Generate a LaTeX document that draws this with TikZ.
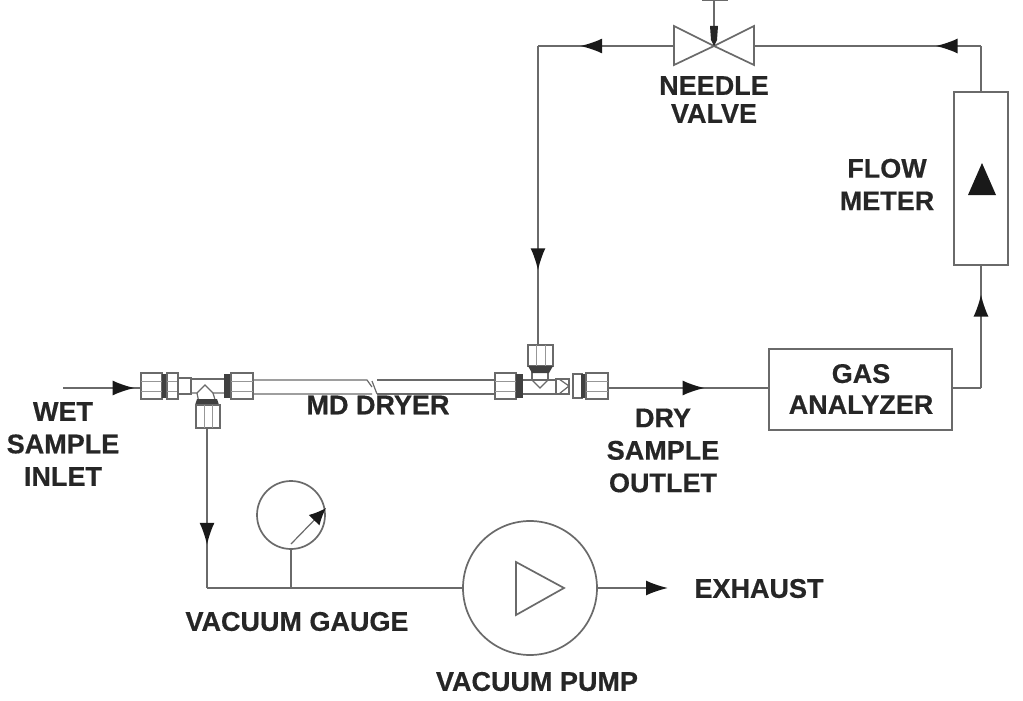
\documentclass[tikz,border=0pt]{standalone}
\usepackage{fontspec}
\setmainfont{Liberation Sans}
\usetikzlibrary{arrows.meta,decorations.markings,calc,shapes.geometric}
\definecolor{ln}{HTML}{6A6A6A}
\definecolor{tx}{HTML}{262626}
\tikzset{
  x=1pt,y=-1pt,
  pipe/.style={draw=ln,line width=1.7pt},
  thin part/.style={draw=ln,line width=1.2pt},
  box/.style={draw=ln,line width=1.7pt,fill=white,rectangle,inner sep=0pt,outer sep=0pt},
  lbl/.style={text=tx,font=\fontsize{27}{32.5}\selectfont\bfseries\addfontfeature{FakeBold=0.5},align=center,inner sep=0pt},
  band/.style={fill=ln!60!black,draw=none},
  flow/.style={postaction={decorate},decoration={markings,mark=at position #1 with {\arrow{Latex[length=22pt,width=15pt,color=black!90]}}}},
}
% horizontal nut: x1,x2,y centre
\newcommand{\hnutpart}[3]{%
  \draw[thin part,fill=white] (#1,#3-13) rectangle (#2,#3+13);
  \draw[draw=ln!70,line width=.9pt] (#1,#3-5) -- (#2,#3-5) (#1,#3+5) -- (#2,#3+5);
}
% vertical nut: x1,x2,y1,y2
\newcommand{\vnutpart}[4]{%
  \draw[thin part,fill=white] (#1,#3) rectangle (#2,#4);
  \draw[draw=ln!70,line width=.9pt] ({#1+8},#3) -- ({#1+8},#4) ({#2-8},#3) -- ({#2-8},#4);
}
\begin{document}
\begin{tikzpicture}
\useasboundingbox (0,0) rectangle (1023,701);
\fill[white] (0,0) rectangle (1023,701);

% equipment
\node[box,minimum width=183pt,minimum height=81pt] (gas) at (860.5,389.5) {};
\node[box,minimum width=54pt,minimum height=173pt] (meter) at (981,178.5) {};
\node[circle,draw=ln,line width=1.7pt,minimum size=134pt,inner sep=0pt,outer sep=0pt] (pump) at (530,588) {};
\node[circle,draw=ln,line width=1.7pt,minimum size=68pt,inner sep=0pt,outer sep=0pt] (gauge) at (291,515) {};
\draw[pipe] (516,562) -- (564,588) -- (516,615) -- cycle;
\fill[black!90] (968,195) -- (982,163) -- (996,195) -- cycle;

% reference points
\coordinate (inletfree) at (63,388);
\coordinate (inport) at (140,388);
\coordinate (outport) at (608,388);
\coordinate (vacport) at (207,428);
\coordinate (purgeport) at (538,345);
\coordinate (corner1) at (981,388);
\coordinate (corner2) at (981,46);
\coordinate (valver) at (754,46);
\coordinate (valvel) at (674,46);
\coordinate (valvec) at (714,46);
\coordinate (corner3) at (538,46);
\coordinate (corner4) at (207,588);
\coordinate (gaugetee) at (291,588);
\coordinate (exhaustend) at (668,588);
\coordinate (stemtop) at (714,0);
\coordinate (needletail) at (291,544);
\coordinate (needletip) at (326,508);

% connectors
\draw[pipe,flow=0.93] (inletfree) -- (inport);
\draw[pipe,flow=0.60] (outport) -- (gas.west |- outport);
\draw[pipe] (gas.east |- corner1) -- (corner1);
\draw[pipe,flow=0.76] (corner1) -- (meter.south -| corner1);
\draw[pipe] (meter.north -| corner1) -- (corner2);
\draw[pipe,flow=0.2] (corner2) -- (valver);
\draw[pipe,flow=0.69] (valvel) -- (corner3);
\draw[pipe,flow=0.75] (corner3) -- (purgeport);
\draw[pipe,flow=0.73] (vacport) -- (corner4);
\draw[pipe] (corner4) -- (pump.west);
\draw[pipe] (gaugetee) -- (gauge.south);
\draw[pipe,-{Latex[length=22pt,width=15pt,color=black!90]}] (pump.east) -- (exhaustend);

% gauge needle
\draw[thin part,-{Latex[length=17pt,width=15pt,color=black!90]}] (needletail) -- (needletip);

% needle valve
\draw[pipe] (valvel |- 0,26) -- (valvec) -- (valvel |- 0,65) -- cycle;
\draw[pipe] (valver |- 0,26) -- (valvec) -- (valver |- 0,65) -- cycle;
\draw[pipe] (stemtop) -- (valvec);
\draw[pipe] (702,0) -- (728,0);
\fill[black!85] (710,26) -- (718,26) -- (717,40) -- (714,46) -- (711,40) -- cycle;

% dryer tube
\draw[thin part] (253,380) -- (367,380) -- (372,387) (253,394) -- (372,394) (372,381) -- (377,394);
\draw[thin part] (377,380) -- (495,380) (377,394) -- (495,394);

% left tee
\draw[thin part] (190,379) -- (225,379);
\draw[thin part] (192,393) -- (197,393) -- (205,385) -- (213,393) -- (225,393);
\draw[thin part] (197,393) -- (199,403) (213,393) -- (216,403);
\hnutpart{141}{162}{386}
\fill[band] (162,374) rectangle (167,398);
\hnutpart{167}{178}{386}
\draw[thin part,fill=white] (178,378) rectangle (191,394);
\fill[band] (224,374) rectangle (231,398);
\hnutpart{231}{253}{386}
\fill[band] (197,399) -- (217,399) -- (219,405) -- (195,405) -- cycle;
\vnutpart{196}{220}{405}{428}

% right tee
\draw[thin part] (522,380) -- (556,380);
\draw[thin part] (522,394) -- (556,394);
\draw[thin part] (532,380) -- (540,388) -- (548,380);
\draw[thin part] (532,380) -- (532,371) (548,380) -- (548,371);
\hnutpart{495}{516}{386}
\fill[band] (516,374) rectangle (523,398);
\draw[thin part,fill=white] (556,379) rectangle (569,394);
\draw[thin part] (559,379) -- (569,386) -- (559,394);
\draw[thin part,fill=white] (573,374) rectangle (582,398);
\fill[band] (581,374) rectangle (586,398);
\hnutpart{586}{608}{386}
\vnutpart{528}{553}{345}{366}
\fill[band] (528,366) -- (553,366) -- (549,373) -- (532,373) -- cycle;

% labels
\node[lbl] (lbwet) at (63,444) {WET\\SAMPLE\\INLET};
\node[lbl] (lbmd) at (378,405) {MD DRYER};
\node[lbl] (lbdry) at (663,450.5) {DRY\\SAMPLE\\OUTLET};
\node[lbl,font=\fontsize{27}{31}\selectfont\bfseries\addfontfeature{FakeBold=0.5}] (lbgas) at (861,389) {GAS\\ANALYZER};
\node[lbl] (lbflow) at (887,184.5) {FLOW\\METER};
\node[lbl,font=\fontsize{27}{28}\selectfont\bfseries\addfontfeature{FakeBold=0.5}] (lbneedle) at (714,99.5) {NEEDLE\\VALVE};
\node[lbl] (lbgauge) at (297,621.5) {VACUUM GAUGE};
\node[lbl] (lbpump) at (537,681.5) {VACUUM PUMP};
\node[lbl] (lbex) at (759,588.5) {EXHAUST};
\end{tikzpicture}
\end{document}
